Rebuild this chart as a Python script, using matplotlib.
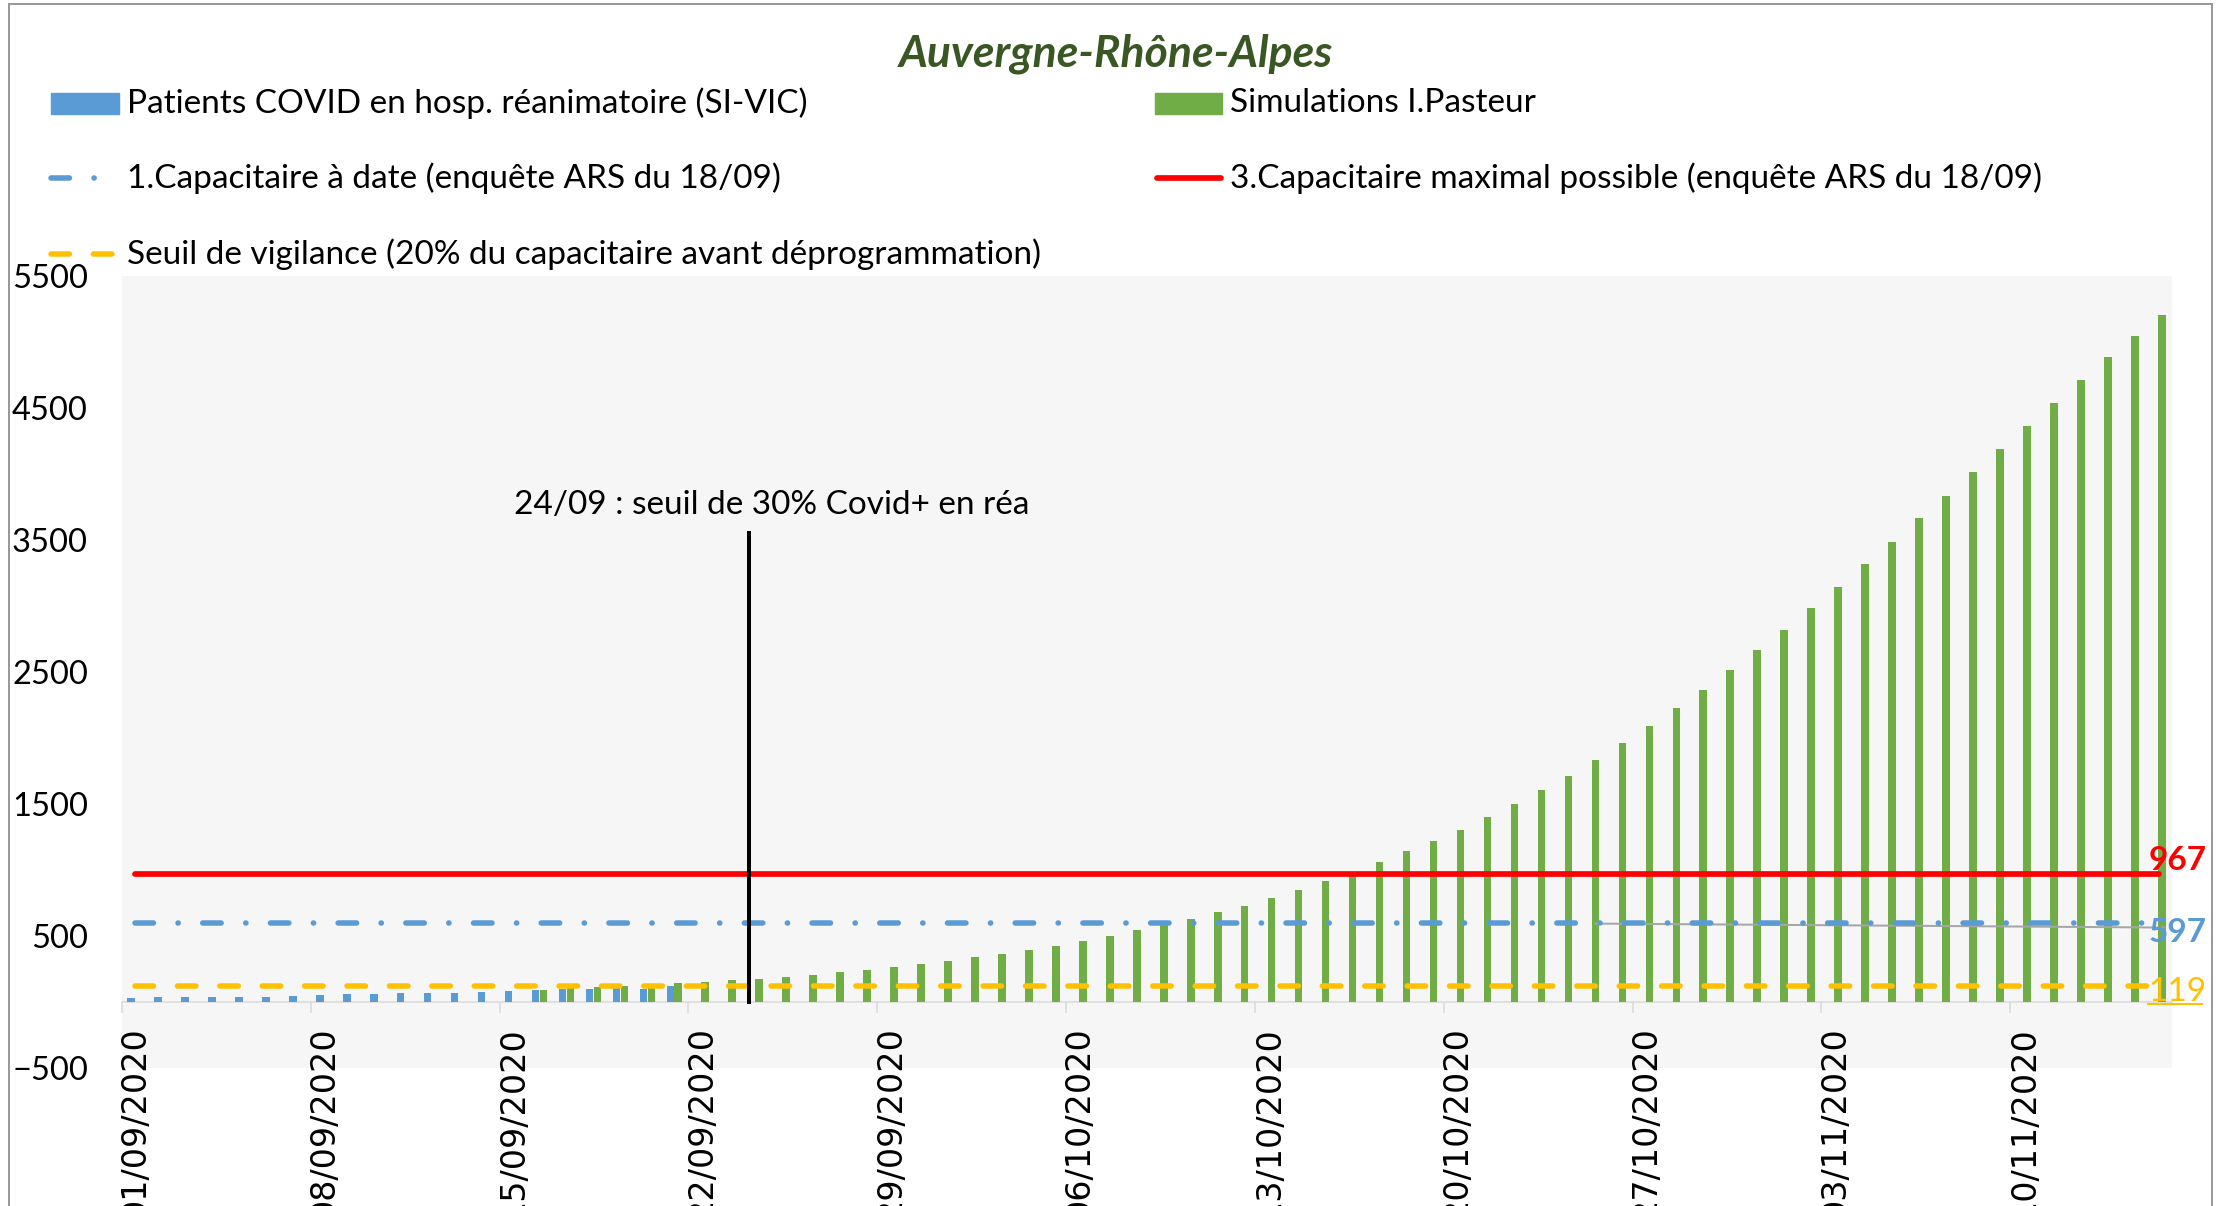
import numpy as np
import pandas as pd
import matplotlib
matplotlib.use('Agg')
import matplotlib.pyplot as plt
from matplotlib.lines import Line2D
from matplotlib.patches import Rectangle

# one category per day, 01/09/2020 -> 15/11/2020
dates = pd.date_range('2020-09-01', '2020-11-15', freq='D')
date_labels = [d.strftime('%d/%m/%Y') for d in dates]

# patients COVID en rea (SI-VIC), from 01/09
sivic_start = 0
sivic = [31, 35, 35, 40, 40, 40, 45, 51, 58, 64, 66, 66, 68, 76, 87, 92, 95, 98, 104, 102, 118]

# simulations I.Pasteur, from 16/09
pasteur_start = 15
pasteur = [93, 103, 111, 121, 131, 143, 152, 163, 178, 193, 207, 227, 244, 267, 287, 312,
           340, 365, 396, 426, 464, 499, 542, 582, 630, 680, 731, 786, 852, 915, 985, 1061,
           1145, 1220, 1306, 1403, 1500, 1608, 1715, 1833, 1962, 2091, 2231, 2360, 2513,
           2664, 2818, 2982, 3146, 3315, 3486, 3665, 3834, 4018, 4189, 4364, 4541, 4712,
           4884, 5043, 5202]

cap_date = 597      # 1.Capacitaire a date
cap_max = 967       # 3.Capacitaire maximal possible
seuil = 119         # seuil de vigilance

event_idx = 23      # 24/09
event_top = 3550
event_text = '24/09 : seuil de 30% Covid+ en réa'

yticks = [-500, 500, 1500, 2500, 3500, 4500, 5500]

BLUE = '#5b9bd5'
GREEN = '#70ad47'
ORANGE = '#ffc000'
RED = '#ff0000'

W, H = 2229, 1206
fig = plt.figure(figsize=(W / 100, H / 100), dpi=100)
ax = fig.add_axes([122 / W, 1 - 1068 / H, (2172 - 122) / W, (1068 - 276) / H])
ax.set_facecolor('#f6f6f6')

lato = 'Lato'
pt = 72 / 100  # px -> pt
LEG_FS = 24

n = len(dates)
xs = np.arange(n)
bw = 0.28
ax.bar(np.arange(len(sivic)) + sivic_start - 0.167, sivic, width=bw, color=BLUE, zorder=2)
ax.bar(np.arange(len(pasteur)) + pasteur_start + 0.122, pasteur, width=bw, color=GREEN, zorder=2)

lw_dash = 5.5 * pt
dashdot = (0, (3.36, 4.45, 0.05, 4.45))
dashed = (0, (3.36, 4.35))
ax.plot([xs[0], xs[-1]], [cap_max, cap_max], color=RED, lw=5.7 * pt,
        solid_capstyle='round', zorder=4)
ax.plot([xs[0], xs[-1]], [cap_date, cap_date], color=BLUE, lw=lw_dash,
        linestyle=dashdot, dash_capstyle='round', zorder=4)
ax.plot([xs[0], xs[-1]], [seuil, seuil], color=ORANGE, lw=lw_dash,
        linestyle=dashed, dash_capstyle='round', zorder=4)

# 24/09 marker
ev_x = event_idx - 0.26
ax.plot([ev_x, ev_x], [0, event_top], color='black', lw=4 * pt, zorder=5)
ax.text(event_idx + 0.6, 3763, event_text, ha='center', va='center',
        fontsize=LEG_FS, family=lato)

# data labels at the end of the lines
ax.plot([54.15, 75.2], [594, 564], color='#a6a6a6', lw=2 * pt, zorder=3, clip_on=False)
ax.text(74.63, 1002, str(cap_max), color=RED, fontsize=24, fontweight='bold',
        family=lato, va='baseline', ha='left', clip_on=False, zorder=6)
ax.text(74.63, 458, str(cap_date), color=BLUE, fontsize=24, fontweight='bold',
        family=lato, va='baseline', ha='left', clip_on=False, zorder=6)
ax.text(74.63, 4, str(seuil), color=ORANGE, fontsize=24,
        family=lato, va='baseline', ha='left', clip_on=False, zorder=6)
ax.plot([74.6, 76.63], [-17, -17], color=ORANGE, lw=2 * pt, clip_on=False, zorder=6)

ax.set_xlim(-0.5, n - 0.5)
ax.set_ylim(-500, 5500)

# ticks between categories, labels under each week
ax.set_xticks(np.arange(-0.5, n - 1, 7))
ax.set_xticklabels([])
ax.set_xticks(xs[::7], [date_labels[i] for i in xs[::7]], minor=True)
ax.tick_params(axis='x', which='major', length=11 * pt, width=1.5 * pt, color='#d9d9d9')
ax.tick_params(axis='x', which='minor', length=0, pad=24 * pt, labelsize=24,
               rotation=90)
for lab in ax.get_xticklabels(minor=True):
    lab.set_family('Open Sans')

ax.set_yticks(yticks)
ax.tick_params(axis='y', length=0, pad=34 * pt, labelsize=23.5)
for lab in ax.get_yticklabels():
    lab.set_family(lato)

for s in ['left', 'right', 'top']:
    ax.spines[s].set_visible(False)
ax.spines['bottom'].set_position(('data', 0))
ax.spines['bottom'].set_color('#d9d9d9')
ax.spines['bottom'].set_linewidth(1.5 * pt)
ax.spines['bottom'].set_zorder(1)

# title
fig.text(1116 / W, 1 - 54 / H, 'Auvergne-Rhône-Alpes', ha='center', va='center',
         fontsize=32, fontweight='bold', style='italic', color='#385723', family=lato)


# legend (excel layout, drawn by hand)
def fx(px):
    return px / W


def fy(py):
    return 1 - py / H


def leg_text(x, y, s):
    fig.text(fx(x), fy(y), s, ha='left', va='center', fontsize=LEG_FS, family=lato)


fig.add_artist(Rectangle((fx(51), fy(114)), 68 / W, 21 / H, color=BLUE,
                         transform=fig.transFigure))
leg_text(127, 103, 'Patients COVID en hosp. réanimatoire (SI-VIC)')
fig.add_artist(Line2D([fx(50.8), fx(118)], [fy(178), fy(178)], color=BLUE, lw=lw_dash,
                      linestyle=dashdot, dash_capstyle='round',
                      transform=fig.transFigure))
leg_text(127, 178, '1.Capacitaire à date (enquête ARS du 18/09)')
fig.add_artist(Line2D([fx(50.8), fx(113)], [fy(254), fy(254)], color=ORANGE, lw=lw_dash,
                      linestyle=dashed, dash_capstyle='round',
                      transform=fig.transFigure))
leg_text(127, 254, 'Seuil de vigilance (20% du capacitaire avant déprogrammation)')

fig.add_artist(Rectangle((fx(1155), fy(114)), 67 / W, 21 / H, color=GREEN,
                         transform=fig.transFigure))
leg_text(1230, 103, 'Simulations I.Pasteur')
fig.add_artist(Line2D([fx(1157), fx(1221)], [fy(178), fy(178)], color=RED, lw=5.7 * pt,
                      solid_capstyle='round', transform=fig.transFigure))
leg_text(1230, 178, '3.Capacitaire maximal possible (enquête ARS du 18/09)')

# chart border (bottom is cut off in the original)
border = dict(color='#999999', lw=2 * pt, transform=fig.transFigure)
fig.add_artist(Line2D([fx(9), fx(9)], [fy(4), 0], **border))
fig.add_artist(Line2D([fx(9), fx(2212)], [fy(4), fy(4)], **border))
fig.add_artist(Line2D([fx(2212), fx(2212)], [fy(4), 0], **border))

fig.savefig('out.png', dpi=100, facecolor='white')
